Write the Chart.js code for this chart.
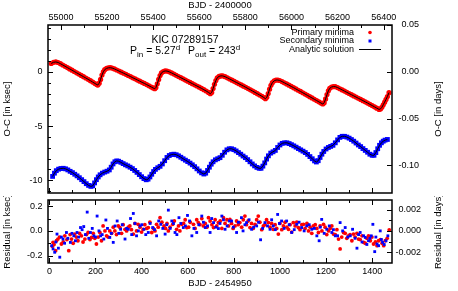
<!DOCTYPE html>
<html>
<head>
<meta charset="utf-8">
<script src="https://cdn.jsdelivr.net/npm/chart.js@4"></script>
<style>
  html, body { margin:0; padding:0; background:#fff; }
  #wrap { position:relative; width:458px; height:291px; overflow:hidden; }
  canvas { position:absolute; left:0; }
  #top { top:0; }
  #bot { top:196px; }
</style>
</head>
<body>
<div id="wrap">
  <canvas id="top" width="458" height="197"></canvas>
  <canvas id="bot" width="458" height="95"></canvas>
</div>
<script>
// O-C of primary minima (BJD - 2454950, ksec)
const priT = [8,18,28,38,48,58,68,78,88,98,108,118,128,138,148,158,168,178,188,198,206,210,216,222,228,234,240,248,256,264,
  272,282,292,302,312,322,332,342,352,362,372,382,392,402,412,422,432,442,450,457,462,468,474,480,486,494,502,510,
  520,530,540,550,560,570,580,590,600,610,620,630,640,650,660,670,680,690,698,704,710,716,722,728,736,744,752,
  762,772,782,792,802,812,822,832,842,852,862,872,882,892,902,912,922,930,937,943,949,955,961,967,975,983,991,999,
  1009,1019,1029,1039,1049,1059,1069,1079,1089,1099,1109,1119,1129,1139,1149,1159,1169,1178,1186,1192,1198,1204,1210,1216,1224,1232,1240,
  1250,1260,1270,1280,1290,1300,1310,1320,1330,1340,1350,1360,1370,1380,1390,1400,1410,1420,1430,1436,1442,1448,1454,1460,1466,1473];
const priOC = [0.77,0.88,0.91,0.86,0.75,0.63,0.51,0.39,0.27,0.15,0.03,-0.09,-0.21,-0.33,-0.45,-0.57,-0.69,-0.82,-0.95,-1.08,-1.18,-1.22,-1.05,-0.7,-0.3,0,0.2,0.32,0.37,0.38,
  0.35,0.27,0.17,0.07,-0.03,-0.13,-0.23,-0.34,-0.44,-0.55,-0.65,-0.76,-0.86,-0.97,-1.07,-1.18,-1.29,-1.4,-1.49,-1.56,-1.45,-1.1,-0.7,-0.35,-0.1,0.03,0.08,0.07,
  0,-0.1,-0.21,-0.32,-0.43,-0.54,-0.65,-0.76,-0.87,-0.98,-1.09,-1.2,-1.31,-1.42,-1.53,-1.65,-1.77,-1.9,-2.02,-1.9,-1.55,-1.15,-0.8,-0.55,-0.42,-0.37,-0.38,
  -0.45,-0.55,-0.66,-0.77,-0.88,-0.99,-1.1,-1.21,-1.32,-1.43,-1.55,-1.66,-1.78,-1.9,-2.02,-2.14,-2.26,-2.37,-2.48,-2.35,-2.0,-1.6,-1.25,-1.0,-0.83,-0.76,-0.76,-0.8,
  -0.9,-1.01,-1.12,-1.23,-1.35,-1.46,-1.58,-1.7,-1.81,-1.93,-2.05,-2.17,-2.29,-2.41,-2.53,-2.65,-2.77,-2.88,-2.97,-2.85,-2.5,-2.1,-1.75,-1.52,-1.4,-1.36,-1.37,
  -1.45,-1.56,-1.67,-1.78,-1.89,-2.0,-2.11,-2.22,-2.33,-2.44,-2.55,-2.66,-2.77,-2.88,-3.0,-3.11,-3.23,-3.35,-3.47,-3.42,-3.28,-3.04,-2.8,-2.55,-2.28,-1.92];

// O-C of secondary minima (ksec)
const secT = [14,22,30,40,50,60,70,80,90,100,110,120,130,140,150,160,170,180,188,196,204,212,220,230,240,250,260,268,276,284,292,
  300,310,320,330,340,350,360,370,380,390,400,410,420,428,436,444,452,460,470,480,490,500,510,520,530,540,
  550,560,570,580,590,600,610,620,630,640,650,660,670,678,686,694,702,710,720,730,740,750,760,770,780,790,
  800,810,820,830,840,850,860,870,880,890,900,910,918,926,934,942,950,960,970,980,990,1000,1010,1020,1030,
  1040,1050,1060,1070,1080,1090,1100,1110,1120,1130,1140,1150,1158,1166,1174,1182,1190,1200,1210,1220,1230,1240,1250,1260,1270,1280,
  1290,1300,1310,1320,1330,1340,1350,1360,1370,1380,1390,1400,1408,1416,1424,1432,1440,1448,1456,1466];
const secOC = [-9.65,-9.35,-9.12,-8.98,-8.92,-8.9,-8.95,-9.05,-9.18,-9.3,-9.45,-9.6,-9.77,-9.95,-10.13,-10.32,-10.48,-10.57,-10.52,-10.25,-9.95,-9.7,-9.5,-9.35,-9.25,-9.17,-9.05,-8.8,-8.5,-8.3,-8.22,
  -8.25,-8.35,-8.47,-8.58,-8.68,-8.8,-8.93,-9.1,-9.28,-9.48,-9.68,-9.85,-9.96,-9.9,-9.7,-9.45,-9.2,-9.0,-8.85,-8.72,-8.5,-8.2,-7.9,-7.72,-7.63,-7.6,
  -7.65,-7.75,-7.88,-8.02,-8.15,-8.28,-8.42,-8.58,-8.75,-8.95,-9.15,-9.32,-9.43,-9.35,-9.1,-8.8,-8.52,-8.3,-8.12,-8.02,-7.92,-7.7,-7.42,-7.2,-7.1,-7.1,
  -7.18,-7.3,-7.45,-7.6,-7.77,-7.92,-8.1,-8.3,-8.5,-8.68,-8.82,-8.9,-8.9,-8.7,-8.4,-8.05,-7.75,-7.5,-7.38,-7.25,-6.98,-6.75,-6.6,-6.55,-6.55,
  -6.62,-6.72,-6.83,-6.95,-7.08,-7.2,-7.32,-7.45,-7.62,-7.82,-8.02,-8.22,-8.32,-8.2,-7.9,-7.6,-7.35,-7.12,-6.98,-6.88,-6.78,-6.55,-6.28,-6.05,-5.95,-5.95,
  -6.02,-6.12,-6.25,-6.4,-6.57,-6.75,-6.9,-7.08,-7.25,-7.42,-7.6,-7.7,-7.7,-7.45,-7.1,-6.78,-6.55,-6.4,-6.3,-6.24];

// residuals of primary minima (ksec)
const resPriT = [13,16,27,37,52,67,84,96,110,124,139,154,168,183,204,219,233,248,262,284,306,328,349,364,385,407,429,444,465,480,497,516,535,552,574,596,625,646,668,690,712,733,755,777,
  783,805,826,848,870,892,906,928,950,971,993,1015,1037,1058,1080,1102,1124,1145,1167,1189,1211,1232,1254,1261,1276,1297,1319,1341,1363,1384,1406,1428,1450,1457,1474,
  20,31,44,60,76,90,103,117,131,146,161,176,190,197,212,226,241,255,270,277,291,299,313,320,335,342,356,371,378,393,400,414,422,436,451,458,472,488,504,510,
  523,542,560,566,582,589,604,611,632,639,653,661,676,683,697,705,719,726,741,748,762,770,790,797,812,819,834,841,855,862,877,884,899,913,921,935,942,957,964,979,
  986,1000,1008,1022,1030,1044,1051,1066,1073,1087,1095,1109,1117,1131,1138,1153,1160,1174,1182,1196,1203,1218,1225,1240,1247,1268,1283,1290,1304,1312,1326,1334,1348,1356,1370,1377,1392,1399,1414,1421,1436,1443,1465];
const resPri = [-0.125,-0.093,-0.16,-0.066,-0.106,-0.04,-0.16,-0.066,-0.026,-0.08,-0.04,-0.066,-0.013,-0.053,-0.106,-0.013,0.04,-0.04,0,0,0.027,0.013,0.04,-0.026,0.053,0.013,0.027,-0.013,0.053,0.107,0.04,0,0.053,0.013,0.053,0.027,0.053,0.067,0.04,0.107,0.027,0.067,0.107,0.04,
  0.093,0.04,0.067,0.12,0.027,0.053,0.12,0.04,0.067,0.013,-0.026,0.04,0.013,0.067,0.027,0.053,0,0.04,-0.013,0.053,0,-0.026,-0.066,-0.146,-0.013,-0.04,-0.026,-0.066,-0.093,-0.04,-0.106,-0.08,-0.12,-0.08,0.008,
  -0.11,-0.08,-0.05,-0.09,-0.07,-0.03,-0.1,-0.05,-0.02,-0.09,-0.03,-0.07,-0.02,-0.06,-0.05,-0.08,0,-0.05,-0.02,0.03,-0.03,0.04,-0.02,0.05,0,0.03,0.01,0.06,0,0.03,-0.01,0.05,0.02,0.07,0.02,0,0.03,0.07,0.02,0.06,
  0.03,0.08,0.04,0,0.06,0.09,0.03,0.07,0.02,0.09,0.05,0.1,0.06,0.03,0.08,0.05,0.09,0.04,0.08,0.02,0.06,0.09,0.06,0.02,0.08,0.05,0.03,0.09,0.05,0.08,0.06,0.02,0.09,0.07,0.01,0.05,0.09,0.03,0.06,0.05,
  0.02,0.06,0.01,0.07,0.03,0.05,-0.01,0.04,0.07,0.01,0.05,0.02,0.06,0.03,-0.02,0.05,0.02,0.04,0,0.03,-0.03,0.02,0.04,-0.03,0.01,-0.05,-0.02,-0.06,-0.03,-0.08,-0.05,-0.02,-0.07,-0.04,-0.1,-0.06,-0.08,-0.05,-0.09,-0.12,-0.07,-0.1,-0.06];

// residuals of secondary minima (ksec)
const resSecT = [16,23,33,45,59,74,91,106,120,135,149,164,178,193,207,222,236,245,262,277,294,309,328,342,352,364,378,393,410,429,448,465,483,502,516,531,545,562,581,599,618,639,661,676,697,712,733,748,762,781,
  790,812,833,855,877,899,916,935,957,971,990,1007,1029,1051,1073,1094,1116,1138,1160,1170,1181,1203,1225,1240,1261,1283,1305,1315,1334,1348,1370,1384,1396,1403,1411,1421,1435,1445,1460,
  10,28,39,52,66,80,98,113,127,142,156,171,186,200,215,229,252,269,285,301,316,335,357,371,386,401,418,437,456,474,492,509,524,538,553,570,590,608,627,648,
  668,686,704,722,740,755,771,798,820,840,848,866,886,907,925,946,964,980,998,1018,1040,1062,1083,1105,1127,1149,1175,1192,1214,1232,1250,1272,1294,1326,1341,1356,1363,1377,1390,1416,1428,1440,1452,1468];
const resSec = [-0.146,-0.173,-0.026,-0.213,-0.066,-0.013,-0.093,-0.04,-0.013,0.027,0.035,0.152,-0.013,-0.04,0.12,-0.04,-0.066,0.088,-0.053,-0.093,0.08,0.013,-0.066,0.013,0.1,0.141,-0.04,0.04,0.013,-0.013,0.027,-0.04,0.053,-0.026,0.168,0.08,-0.013,0.107,0.027,0.125,-0.04,-0.013,0.12,0.027,-0.013,0.067,0.019,0.12,0.013,0.08,
  0.08,-0.013,0.107,0.067,0.013,0.04,-0.072,0.067,0.013,0.04,0.133,0.08,0.08,-0.013,0.053,0.027,0.04,0.013,-0.04,-0.08,0.093,0.013,-0.013,-0.04,0.067,0.027,-0.04,0.013,-0.14,-0.013,-0.053,-0.08,-0.04,0.053,-0.168,-0.106,0,-0.093,-0.08,
  -0.12,-0.09,-0.14,-0.05,-0.1,-0.06,-0.02,-0.08,-0.05,0.01,-0.03,-0.06,0.02,-0.05,0,-0.03,0.02,-0.02,0.04,-0.02,0.05,0.02,-0.03,0.06,0,0.05,-0.03,0.06,0.01,0.08,0.02,0.05,0.02,0.06,-0.03,0.06,0.04,0.08,0.02,0.05,
  0.07,0.04,0.1,0.03,0.06,0.09,0.04,0.03,0.07,0,0.05,0.09,0.03,0.07,0.02,0.04,0.09,0.01,0.06,0.02,0.05,0.01,0.07,0,0.05,0.02,0.03,-0.02,0.04,0.01,-0.04,0,-0.05,-0.06,-0.03,-0.09,-0.04,-0.11,-0.06,-0.05,-0.12,-0.07,-0.11,-0.04];

// axes
const tOffset = 54950;          // BJD - 2454950 -> BJD - 2400000
const daySec = 86.4;            // ksec per day
const xRange = [-6, 1486];
const ocRange = [-11.18, 4.32];
const resRange = [-0.26, 0.25];
const ocTicks = [-10, -5, 0];
const ocDayTicks = [-0.10, -0.05, 0, 0.05];
const resTicks = [-0.2, 0, 0.2];
const resDayTicks = [-0.002, 0, 0.002];

const FONT = "'Liberation Sans', Arial, sans-serif";
const RED = '#ff0000', BLUE = '#0000ff';

const pts = (xs, ys) => xs.map((x, i) => ({ x: x, y: ys[i] }));
const fixTicks = arr => s => { s.ticks = arr.map(v => ({ value: v })); };
// fixed box size, no extra room for overhanging labels
const boxW = w => s => { s.width = w; s.paddingTop = 0; s.paddingBottom = 0; };
const boxH = h => s => { s.height = h; s.paddingLeft = 0; s.paddingRight = 0; };

// frame with inward ticks, gnuplot style
const framePlugin = {
  id: 'frame',
  afterDatasetsDraw(chart, args, opts) {
    const { ctx, chartArea: a } = chart;
    ctx.save();
    ctx.strokeStyle = '#000';
    ctx.lineWidth = 1;
    ctx.beginPath();
    opts.marks.forEach(m => {
      const s = chart.scales[m.scale];
      const n = Math.round((m.to - m.from) / m.step);
      for (let i = 0; i <= n; i++) {
        const v = m.from + i * m.step;
        const major = Math.abs(v / m.major - Math.round(v / m.major)) < 1e-6;
        const len = major ? 5 : 3;
        const p = Math.round(s.getPixelForValue(v)) + 0.5;
        if (m.side === 'left') { ctx.moveTo(a.left, p); ctx.lineTo(a.left + len, p); }
        if (m.side === 'right') { ctx.moveTo(a.right, p); ctx.lineTo(a.right - len, p); }
        if (m.side === 'top') { ctx.moveTo(p, a.top); ctx.lineTo(p, a.top + len); }
        if (m.side === 'bottom') { ctx.moveTo(p, a.bottom); ctx.lineTo(p, a.bottom - len); }
      }
    });
    ctx.stroke();
    ctx.lineWidth = 1.5;
    ctx.strokeRect(a.left, a.top, a.right - a.left, a.bottom - a.top);
    // right-hand title, read bottom to top
    ctx.fillStyle = '#000';
    ctx.font = '9.5px ' + FONT;
    ctx.textAlign = 'center';
    ctx.textBaseline = 'middle';
    ctx.translate(438, (a.top + a.bottom) / 2);
    ctx.rotate(-Math.PI / 2);
    ctx.fillText(opts.rightTitle, 0, 0);
    ctx.restore();
  }
};

// title + key of the upper panel
const keyPlugin = {
  id: 'key',
  afterDraw(chart) {
    const ctx = chart.ctx;
    ctx.save();
    ctx.fillStyle = '#000';
    ctx.textBaseline = 'alphabetic';
    ctx.font = '10.5px ' + FONT;
    ctx.textAlign = 'center';
    ctx.fillText('KIC 07289157', 185, 43);
    // P_in = 5.27^d   P_out = 243^d
    ctx.textAlign = 'left';
    let x = 130;
    const y = 54;
    const seg = (txt, size, dy) => {
      ctx.font = size + 'px ' + FONT;
      ctx.fillText(txt, x, y + dy);
      x += ctx.measureText(txt).width;
    };
    seg('P', 10.5, 0); seg('in', 8, 2.5); seg(' = 5.27', 10.5, 0); seg('d', 8, -4.5);
    x += 8;
    seg('P', 10.5, 0); seg('out', 8, 2.5); seg(' = 243', 10.5, 0); seg('d', 8, -4.5);
    // key
    ctx.font = '9px ' + FONT;
    ctx.textAlign = 'right';
    ctx.textBaseline = 'middle';
    ctx.fillText('Primary minima', 354, 32.5);
    ctx.fillText('Secondary minima', 354, 41);
    ctx.fillText('Analytic solution', 354, 49.5);
    ctx.fillStyle = RED;
    ctx.beginPath(); ctx.arc(370, 32.5, 1.8, 0, Math.PI * 2); ctx.fill();
    ctx.fillStyle = BLUE;
    ctx.fillRect(368.5, 39.5, 3, 3);
    ctx.strokeStyle = '#000'; ctx.lineWidth = 1;
    ctx.beginPath(); ctx.moveTo(359, 49.5); ctx.lineTo(381, 49.5); ctx.stroke();
    ctx.restore();
  }
};

const tickFont = { family: FONT, size: 9 };
const titleFont = { family: FONT, size: 9.5 };
const noGrid = { display: false, drawTicks: false };

new Chart(document.getElementById('top'), {
  type: 'scatter',
  data: { datasets: [
    { label: 'Analytic solution', data: pts(priT, priOC), showLine: true, borderColor: '#000', borderWidth: 1, pointRadius: 0, order: 1 },
    { label: 'Analytic solution', data: pts(secT, secOC), showLine: true, borderColor: '#000', borderWidth: 1, pointRadius: 0, order: 1 },
    { label: 'Primary minima', data: pts(priT, priOC), backgroundColor: RED, borderWidth: 0, pointRadius: 2.6, order: 3 },
    { label: 'Secondary minima', data: pts(secT, secOC), pointStyle: 'rect', backgroundColor: BLUE, borderWidth: 0, pointRadius: 3.4, order: 2 }
  ]},
  options: {
    animation: false, responsive: false, events: [],
    layout: { padding: { top: 0, left: 0, right: 39, bottom: 3 } },
    plugins: {
      legend: { display: false }, tooltip: { enabled: false },
      frame: { rightTitle: 'O-C [in days]', marks: [
        { scale: 'y', side: 'left', from: -11, to: 4, step: 1, major: 5 },
        { scale: 'y2', side: 'right', from: -0.1, to: 0.05, step: 0.05, major: 0.05 },
        { scale: 'x2', side: 'top', from: 55000, to: 56400, step: 100, major: 200 },
        { scale: 'x', side: 'bottom', from: 0, to: 1400, step: 100, major: 200 }
      ] }
    },
    scales: {
      x: { type: 'linear', min: xRange[0], max: xRange[1], display: false },
      x2: { type: 'linear', position: 'top', min: xRange[0] + tOffset, max: xRange[1] + tOffset,
        grid: noGrid, border: { display: false },
        afterBuildTicks: s => { s.ticks = []; for (let v = 55000; v <= 56400; v += 200) s.ticks.push({ value: v }); },
        afterFit: boxH(25),
        ticks: { font: tickFont, color: '#000', padding: 2.5, maxRotation: 0, callback: v => String(v) },
        title: { display: true, text: 'BJD - 2400000', font: titleFont, color: '#000', padding: 0 } },
      y: { type: 'linear', position: 'left', min: ocRange[0], max: ocRange[1],
        grid: noGrid, border: { display: false },
        afterBuildTicks: fixTicks(ocTicks),
        afterFit: boxW(48),
        ticks: { font: tickFont, color: '#000', padding: 5.5 },
        title: { display: true, text: 'O-C [in ksec]', font: titleFont, color: '#000', padding: { top: 2, bottom: 0 } } },
      y2: { type: 'linear', position: 'right', min: ocRange[0] / daySec, max: ocRange[1] / daySec,
        grid: noGrid, border: { display: false },
        afterBuildTicks: fixTicks(ocDayTicks),
        afterFit: boxW(27),
        ticks: { font: tickFont, color: '#000', padding: 6, crossAlign: 'far', callback: v => v.toFixed(2) } }
    }
  },
  plugins: [framePlugin, keyPlugin]
});

new Chart(document.getElementById('bot'), {
  type: 'scatter',
  data: { datasets: [
    { label: 'Primary minima', data: pts(resPriT, resPri), backgroundColor: RED, borderWidth: 0, pointRadius: 1.9, order: 2 },
    { label: 'Secondary minima', data: pts(resSecT, resSec), pointStyle: 'rect', backgroundColor: BLUE, borderWidth: 0, pointRadius: 2, order: 1 }
  ]},
  options: {
    animation: false, responsive: false, events: [],
    layout: { padding: { top: 3, left: 0, right: 37, bottom: 0 } },
    plugins: {
      legend: { display: false }, tooltip: { enabled: false },
      frame: { rightTitle: 'Residual [in days]', marks: [
        { scale: 'y', side: 'left', from: -0.2, to: 0.2, step: 0.1, major: 0.2 },
        { scale: 'y2', side: 'right', from: -0.002, to: 0.002, step: 0.001, major: 0.002 },
        { scale: 'x', side: 'top', from: 0, to: 1400, step: 100, major: 200 },
        { scale: 'x', side: 'bottom', from: 0, to: 1400, step: 100, major: 200 }
      ] }
    },
    scales: {
      x: { type: 'linear', position: 'bottom', min: xRange[0], max: xRange[1],
        grid: noGrid, border: { display: false },
        afterBuildTicks: s => { s.ticks = []; for (let v = 0; v <= 1400; v += 200) s.ticks.push({ value: v }); },
        afterFit: boxH(28),
        ticks: { font: tickFont, color: '#000', padding: 3.3, maxRotation: 0, callback: v => String(v) },
        title: { display: true, text: 'BJD - 2454950', font: titleFont, color: '#000', padding: { top: 0, bottom: 2.3 } } },
      y: { type: 'linear', position: 'left', min: resRange[0], max: resRange[1],
        grid: noGrid, border: { display: false },
        afterBuildTicks: fixTicks(resTicks),
        afterFit: boxW(48),
        ticks: { font: tickFont, color: '#000', padding: 5.5, callback: v => v.toFixed(1) },
        title: { display: true, text: 'Residual [in ksec]', font: titleFont, color: '#000', padding: { top: 2, bottom: 0 } } },
      y2: { type: 'linear', position: 'right', min: resRange[0] / daySec, max: resRange[1] / daySec,
        grid: noGrid, border: { display: false },
        afterBuildTicks: fixTicks(resDayTicks),
        afterFit: boxW(29),
        ticks: { font: tickFont, color: '#000', padding: 3.5, crossAlign: 'far', callback: v => v.toFixed(3) } }
    }
  },
  plugins: [framePlugin]
});
</script>
</body>
</html>
